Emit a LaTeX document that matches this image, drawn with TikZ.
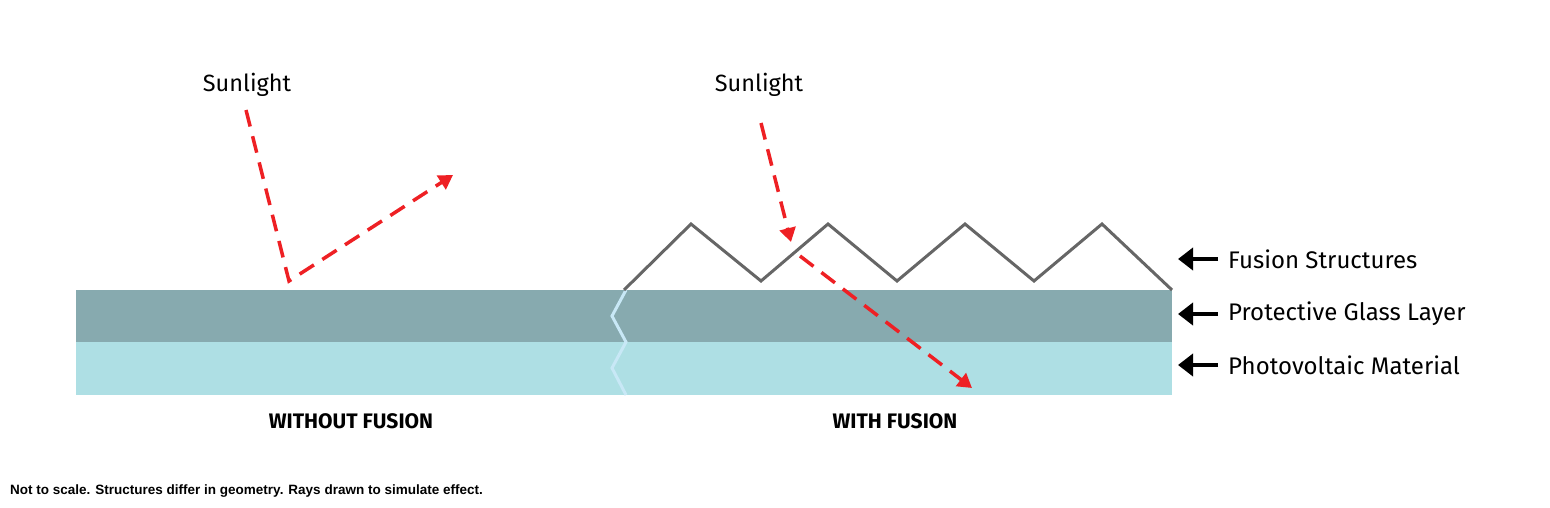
\documentclass[tikz,border=0pt]{standalone}
\usepackage{fontspec}
\setmainfont{Fira Sans}
\newfontfamily\notefont{Liberation Sans}
\usetikzlibrary{arrows.meta}
\definecolor{glass}{HTML}{87AAAF}
\definecolor{photo}{HTML}{AEDFE4}
\definecolor{crack}{HTML}{C8E8F6}
\definecolor{ray}{HTML}{EE2024}
\definecolor{ridge}{HTML}{666666}
\tikzset{
x=1pt, y=-1pt, % one unit is one pixel of the sketch, y grows downwards
sunray/.style={draw=ray, line width=3.5pt, dash pattern=on 17pt off 10pt}, % dashed red rays
raytip/.style={-{Triangle[width=16pt,length=14pt]}}, % head at the end of a ray
pointer/.style={draw=black, line width=4pt, -{Triangle[width=22pt,length=15pt]}, shorten <=10pt}, % arrows to the layers
layerlabel/.style={anchor=west, inner sep=0pt, font=\fontsize{24}{28}\selectfont}, % text on the right
sidelabel/.style={inner sep=0pt, font=\fontsize{21}{25}\selectfont\bfseries}, % text under the layers
}

\begin{document}
\begin{tikzpicture}
\useasboundingbox (0,0) rectangle (1550,508);

% layers
\fill[glass] (76,290) rectangle (1172,342);
\fill[photo] (76,342) rectangle (1172,395);
\draw[crack, line width=3pt] (626,290) -- (612,316) -- (626,342) -- (612,368) -- (626,395);

% fusion structures
\draw[ridge, line width=3pt, line join=miter] (624,290) -- (691,224) -- (761,281) -- (828,224) -- (897,281) -- (965,224) -- (1034,281) -- (1102,224) -- (1172,290);

% labels
\node[inner sep=0pt, font=\fontsize{23.5}{28}\selectfont] (sunleft) at (247,85) {Sunlight};
\node[inner sep=0pt, font=\fontsize{23.5}{28}\selectfont] (sunright) at (759,85) {Sunlight};
\node[sidelabel] (without) at (351,421) {WITHOUT FUSION};
\node[sidelabel] (with) at (895,421) {WITH FUSION};
\node[layerlabel] (fusion) at (1228,259) {Fusion Structures};
\node[layerlabel] (glasslbl) at (1228,314) {Protective Glass Layer};
\node[layerlabel] (photolbl) at (1228,365) {Photovoltaic Material};
\node[anchor=west, inner sep=0pt, font=\notefont\fontsize{13.5}{15}\selectfont\bfseries] (note) at (10,491) {Not to scale. Structures differ in geometry. Rays drawn to simulate effect.};

% points of the rays
\coordinate (leftstart) at (246,110);
\coordinate (lefthit) at (289,281);
\coordinate (leftend) at (453,175);
\coordinate (rightstart) at (761,123);
\coordinate (righttip) at (791,242);
\coordinate (rightin) at (800,256);
\coordinate (rightend) at (972,388);

% rays
\draw[sunray, raytip] (leftstart) -- (lefthit) -- (leftend);
\draw[sunray, raytip] (rightstart) -- (righttip);
\draw[sunray, raytip] (rightin) -- (rightend);

% arrows to the layers
\coordinate (fusiontip) at (1178,259);
\coordinate (glasstip) at (1178,314);
\coordinate (phototip) at (1178,365);
\draw[pointer] (fusion.west) -- (fusiontip);
\draw[pointer] (glasslbl.west) -- (glasstip);
\draw[pointer] (photolbl.west) -- (phototip);

\end{tikzpicture}
\end{document}
